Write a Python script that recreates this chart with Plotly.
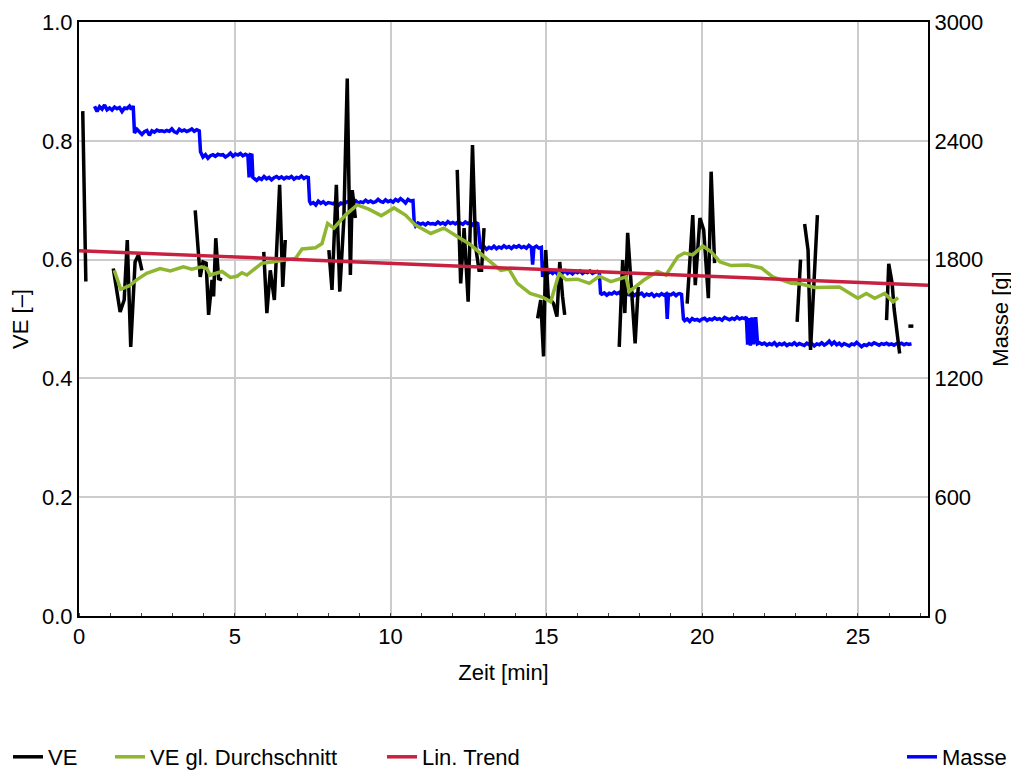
import plotly.graph_objects as go

# ---------------- data ----------------
# VE (black), gaps = None
ve_t = [0.12, 0.22, None,
        1.10, 1.32, 1.45, 1.55, 1.66, 1.80, 1.91, 2.02, None,
        3.73, 3.89, 3.98, 4.08, 4.16, 4.27, 4.32, 4.39, 4.48, 4.59, None,
        5.93, 6.03, 6.14, 6.27, 6.44, 6.54, 6.62, None,
        8.02, 8.12, 8.26, 8.37, 8.50, 8.61, 8.71, 8.77, 8.82, 8.87, None,
        12.14, 12.25, 12.36, 12.49, 12.63, 12.73, 12.84, 12.92, 13.00, None,
        14.72, 14.82, 14.91, 14.98, 15.06, 15.23, 15.34, 15.43, 15.52, 15.59, None,
        17.34, 17.45, 17.52, 17.61, 17.72, 17.85, 17.95, None,
        19.52, 19.70, 19.78, 19.93, 20.05, 20.20, 20.29, 20.40, None,
        23.05, 23.16, None,
        23.29, 23.40, 23.48, 23.70, None,
        25.92, 25.99, 26.10, 26.16, 26.34, None,
        26.62, 26.78]
ve_v = [0.850, 0.563, None,
        0.585, 0.512, 0.532, 0.633, 0.453, 0.596, 0.608, 0.582, None,
        0.683, 0.571, 0.596, 0.594, 0.507, 0.566, 0.538, 0.636, 0.568, 0.566, None,
        0.613, 0.510, 0.582, 0.532, 0.726, 0.554, 0.633, None,
        0.616, 0.549, 0.726, 0.546, 0.667, 0.905, 0.574, 0.717, 0.695, 0.670, None,
        0.751, 0.560, 0.653, 0.529, 0.793, 0.622, 0.582, 0.582, 0.653, None,
        0.501, 0.532, 0.437, 0.616, 0.538, 0.526, 0.504, 0.596, 0.538, 0.507, None,
        0.453, 0.599, 0.510, 0.645, 0.560, 0.459, 0.554, None,
        0.526, 0.675, 0.557, 0.670, 0.650, 0.535, 0.748, 0.594, None,
        0.495, 0.600, None,
        0.660, 0.616, 0.448, 0.675, None,
        0.498, 0.593, 0.560, 0.518, 0.442, None,
        0.488, 0.488]

# VE gleitender Durchschnitt (green)
avg_t = [1.13, 1.34, 1.62, 1.85, 2.17, 2.60, 2.93, 3.35, 3.62, 3.94, 4.10, 4.21, 4.59,
         4.86, 5.07, 5.23, 5.39, 5.66, 5.87, 6.19, 6.57, 6.95, 7.16, 7.59, 7.80, 7.98,
         8.18, 8.55, 8.93, 9.30, 9.70, 10.11, 10.48, 10.80, 11.29, 11.71, 12.14, 12.57,
         13.00, 13.54, 13.80, 14.07, 14.48, 14.87, 15.14, 15.41, 15.63, 16.00, 16.38,
         16.70, 17.07, 17.56, 17.66, 18.14, 18.57, 18.84, 19.22, 19.43, 19.70, 20.02,
         20.29, 20.58, 20.93, 21.47, 21.90, 22.27, 22.86, 23.18, 23.61, 24.41, 25.00,
         25.27, 25.54, 25.86, 26.13, 26.29]
avg_v = [0.582, 0.550, 0.556, 0.566, 0.577, 0.585, 0.581, 0.588, 0.584, 0.588, 0.585, 0.574, 0.580,
         0.570, 0.572, 0.578, 0.574, 0.585, 0.594, 0.596, 0.599, 0.602, 0.618, 0.620, 0.627, 0.661,
         0.653, 0.675, 0.692, 0.685, 0.674, 0.687, 0.675, 0.658, 0.644, 0.653, 0.639, 0.625,
         0.605, 0.582, 0.584, 0.560, 0.543, 0.537, 0.529, 0.577, 0.566, 0.567, 0.560,
         0.572, 0.563, 0.571, 0.546, 0.566, 0.580, 0.574, 0.605, 0.611, 0.608, 0.623,
         0.613, 0.596, 0.590, 0.591, 0.586, 0.571, 0.560, 0.559, 0.553, 0.554, 0.535,
         0.543, 0.535, 0.543, 0.529, 0.536]

# Linear trend (red)
trend_t = [0.0, 27.25]
trend_v = [0.615, 0.557]

# Masse [g] (blue)
masse_t = [0.50, 0.58, 0.66, 0.74, 0.82, 0.90, 0.98, 1.06, 1.14, 1.22, 1.30, 1.38, 1.46, 1.54, 1.62, 1.68, 1.74,
           1.78, 1.86, 1.94, 2.02, 2.10, 2.18, 2.26, 2.34, 2.42, 2.50, 2.58, 2.66, 2.74, 2.82, 2.90, 2.98,
           3.06, 3.14, 3.22, 3.30, 3.38, 3.46, 3.54, 3.62, 3.70, 3.78, 3.86,
           3.90, 3.98, 4.06, 4.14, 4.22, 4.30, 4.38, 4.46, 4.54, 4.62, 4.70, 4.78, 4.86, 4.94, 5.02,
           5.10, 5.18, 5.26, 5.34, 5.42, 5.46, 5.50, 5.55, 5.58,
           5.62, 5.70, 5.78, 5.86, 5.94, 6.02, 6.10, 6.18, 6.26, 6.34, 6.42, 6.50, 6.58, 6.66, 6.74,
           6.82, 6.90, 6.98, 7.06, 7.14, 7.22, 7.30, 7.36,
           7.40, 7.44, 7.52, 7.60, 7.68, 7.76, 7.84, 7.92, 8.00, 8.08, 8.16, 8.24, 8.32, 8.40, 8.48,
           8.56, 8.64, 8.72, 8.80, 8.88, 8.96, 9.04, 9.12, 9.20, 9.28, 9.36, 9.44, 9.52, 9.60, 9.68,
           9.76, 9.84, 9.92, 10.00, 10.08, 10.16, 10.24, 10.32, 10.40, 10.48, 10.56, 10.64, 10.72,
           10.76, 10.80, 10.88, 10.96, 11.04, 11.12, 11.20, 11.28, 11.36, 11.44, 11.52, 11.60, 11.68,
           11.76, 11.84, 11.92, 12.00, 12.08, 12.16, 12.24, 12.32, 12.40, 12.48, 12.56, 12.64, 12.72, 12.80,
           12.88, 12.92, 13.00, 13.08, 13.16, 13.24, 13.32, 13.40, 13.48, 13.56, 13.64, 13.72, 13.80,
           13.88, 13.96, 14.04, 14.12, 14.20, 14.28, 14.36, 14.44, 14.52, 14.56, 14.60, 14.68, 14.76,
           14.84, 14.88, 14.92, 14.96, 15.00,
           15.04, 15.12, 15.20, 15.28, 15.36, 15.44, 15.52, 15.60, 15.68, 15.76, 15.84, 15.92, 16.00,
           16.08, 16.16, 16.24, 16.32, 16.40, 16.48, 16.56, 16.64, 16.70,
           16.74, 16.78, 16.86, 16.94, 17.02, 17.10, 17.18, 17.26, 17.34, 17.42, 17.50, 17.58, 17.66,
           17.74, 17.82, 17.90, 17.98, 18.06, 18.14, 18.22, 18.30, 18.38, 18.46, 18.54, 18.62, 18.70,
           18.78, 18.84, 18.88, 18.92, 19.00, 19.08, 19.16, 19.22, 19.28, 19.34,
           19.40, 19.44, 19.52, 19.60, 19.68, 19.76, 19.84, 19.92, 20.00, 20.08, 20.16, 20.24, 20.32,
           20.40, 20.48, 20.56, 20.64, 20.72, 20.80, 20.88, 20.96, 21.04, 21.12, 21.20, 21.28, 21.36,
           21.42, 21.46, 21.50, 21.55, 21.60, 21.66, 21.72, 21.78,
           21.84, 21.92, 22.00, 22.08, 22.16, 22.24, 22.32, 22.40, 22.48, 22.56, 22.64, 22.72, 22.80,
           22.88, 22.96, 23.04, 23.12, 23.20, 23.28, 23.36, 23.44, 23.52, 23.60, 23.68, 23.76, 23.84,
           23.92, 24.00, 24.08, 24.16, 24.24, 24.32, 24.40, 24.48, 24.56, 24.64, 24.72, 24.80, 24.88,
           24.96, 25.04, 25.12, 25.20, 25.28, 25.36, 25.44, 25.52, 25.60, 25.68, 25.76, 25.84, 25.92,
           26.00, 26.08, 26.16, 26.24, 26.32, 26.40, 26.48, 26.56, 26.64, 26.72]
masse_g = [2575, 2548, 2572, 2560, 2581, 2556, 2566, 2555, 2570, 2562, 2568, 2548, 2566, 2563, 2575, 2558, 2576,
           2440, 2458, 2445, 2432, 2446, 2452, 2428, 2450, 2444, 2454, 2449, 2451, 2446, 2452, 2448, 2460,
           2445, 2440, 2458, 2449, 2455, 2447, 2452, 2460, 2448, 2456, 2450,
           2345, 2318, 2330, 2312, 2325, 2330, 2322, 2332, 2328, 2330, 2318, 2326, 2338, 2322, 2333,
           2328, 2336, 2324, 2332, 2325, 2215, 2330, 2328, 2215,
           2210, 2200, 2212, 2205, 2220, 2208, 2215, 2203, 2214, 2220, 2210, 2218, 2208, 2216, 2212,
           2220, 2206, 2215, 2212, 2222, 2210, 2218, 2215,
           2095, 2082, 2088, 2076, 2095, 2084, 2092, 2080, 2088, 2085, 2082, 2090, 2072, 2086, 2082,
           2088, 2094, 2084, 2090, 2098, 2086, 2092, 2088, 2100, 2090, 2096, 2088, 2092, 2104, 2094,
           2090, 2102, 2092, 2098, 2090, 2104, 2096, 2108, 2098, 2086, 2104, 2096, 2098,
           1985, 1970, 1985, 1978, 1984, 1976, 1986, 1980, 1982, 1978, 1990, 1980, 1986,
           1978, 1992, 1982, 1988, 1980, 1990, 1985, 1978, 1990, 1982, 1988, 1975, 1988, 1982,
           1862, 1858, 1866, 1852, 1862, 1856, 1868, 1855, 1864, 1858, 1870, 1860, 1866,
           1856, 1868, 1862, 1870, 1860, 1866, 1858, 1872, 1862, 1775, 1860, 1868, 1858,
           1862, 1712, 1790, 1740, 1735,
           1728, 1740, 1730, 1742, 1726, 1738, 1732, 1744, 1730, 1738, 1728, 1740, 1734,
           1742, 1730, 1738, 1734, 1742, 1730, 1736, 1740, 1735,
           1630, 1625, 1632, 1620, 1630, 1626, 1636, 1628, 1634, 1620, 1630, 1626, 1622,
           1634, 1618, 1628, 1624, 1630, 1616, 1626, 1620, 1628, 1614, 1624, 1618, 1628,
           1620, 1626, 1500, 1625, 1622, 1630, 1618, 1626, 1628, 1624,
           1500, 1492, 1500, 1488, 1502, 1494, 1498, 1490, 1500, 1504, 1492, 1500, 1496,
           1506, 1498, 1502, 1494, 1508, 1500, 1496, 1504, 1498, 1510, 1500, 1506, 1502,
           1510, 1370, 1505, 1365, 1508, 1372, 1510, 1375,
           1380, 1372, 1378, 1368, 1376, 1370, 1380, 1366, 1376, 1370, 1378, 1366, 1374,
           1370, 1380, 1368, 1376, 1372, 1366, 1378, 1370, 1376, 1364, 1374, 1370, 1380,
           1368, 1376, 1388, 1372, 1384, 1370, 1378, 1366, 1376, 1370, 1364, 1374, 1370,
           1382, 1372, 1360, 1370, 1366, 1376, 1370, 1380, 1372, 1368, 1376, 1372, 1378,
           1370, 1374, 1368, 1376, 1372, 1378, 1370, 1376, 1372, 1375]

x_ticks = [0, 5, 10, 15, 20, 25]
ve_ticks = [0.0, 0.2, 0.4, 0.6, 0.8, 1.0]
masse_ticks = [0, 600, 1200, 1800, 2400, 3000]

# ---------------- figure ----------------
FONT = "Liberation Sans, Arial, sans-serif"
# page body has an 8px default margin -> figure is drawn 8px lower/right
W, H = 1011, 763

fig = go.Figure()

# Masse on primary y (drawn below), VE traces on overlaying y2 (drawn above)
fig.add_trace(go.Scatter(x=masse_t, y=masse_g, mode="lines", name="Masse",
                         line=dict(color="#0000ff", width=3.5), yaxis="y", legend="legend4"))
fig.add_trace(go.Scatter(x=ve_t, y=ve_v, mode="lines", name="VE", connectgaps=False,
                         line=dict(color="#000000", width=3.5), yaxis="y2", legend="legend"))
fig.add_trace(go.Scatter(x=avg_t, y=avg_v, mode="lines", name="VE gl. Durchschnitt",
                         line=dict(color="#8fb630", width=3.5), yaxis="y2", legend="legend2"))
fig.add_trace(go.Scatter(x=trend_t, y=trend_v, mode="lines", name="Lin. Trend",
                         line=dict(color="#c8203f", width=3.5), yaxis="y2", legend="legend3"))

axis_common = dict(showline=True, linecolor="black", linewidth=2, ticks="",
                   zeroline=False, automargin=False, tickfont=dict(size=22, color="black"))

leg_common = dict(xref="container", yref="container", xanchor="left", yanchor="middle",
                  y=14 / H, orientation="h", bgcolor="rgba(0,0,0,0)",
                  font=dict(size=22, color="black", family=FONT), borderwidth=0)

fig.update_layout(
    width=W, height=H,
    margin=dict(l=71, r=91, t=14, b=155),
    paper_bgcolor="white", plot_bgcolor="white",
    font=dict(family=FONT, size=22, color="black"),
    xaxis=dict(range=[0, 27.25], tickvals=x_ticks, showgrid=True, gridcolor="#cccccc",
               gridwidth=1.5, mirror=True,
               title=dict(text="Zeit [min]", standoff=16, font=dict(size=22)),
               minor=dict(ticks="inside", ticklen=3, dtick=1, tickcolor="#444444", showgrid=False),
               **axis_common),
    yaxis=dict(range=[0, 3000], tickvals=masse_ticks, side="right", showgrid=True,
               gridcolor="#cccccc", gridwidth=1.5, mirror=True,
               title=dict(text="Masse [g]", standoff=10, font=dict(size=22)),
               **axis_common),
    yaxis2=dict(range=[0, 1], tickvals=ve_ticks, tickformat=".1f", side="left",
                overlaying="y", showgrid=False,
                title=dict(text="VE [–]", standoff=12, font=dict(size=22)),
                **axis_common),
    legend=dict(x=-1 / W, **leg_common),
    legend2=dict(x=102 / W, **leg_common),
    legend3=dict(x=374 / W, **leg_common),
    legend4=dict(x=894 / W, **leg_common),
    showlegend=True,
)

fig.write_html("out.html")
